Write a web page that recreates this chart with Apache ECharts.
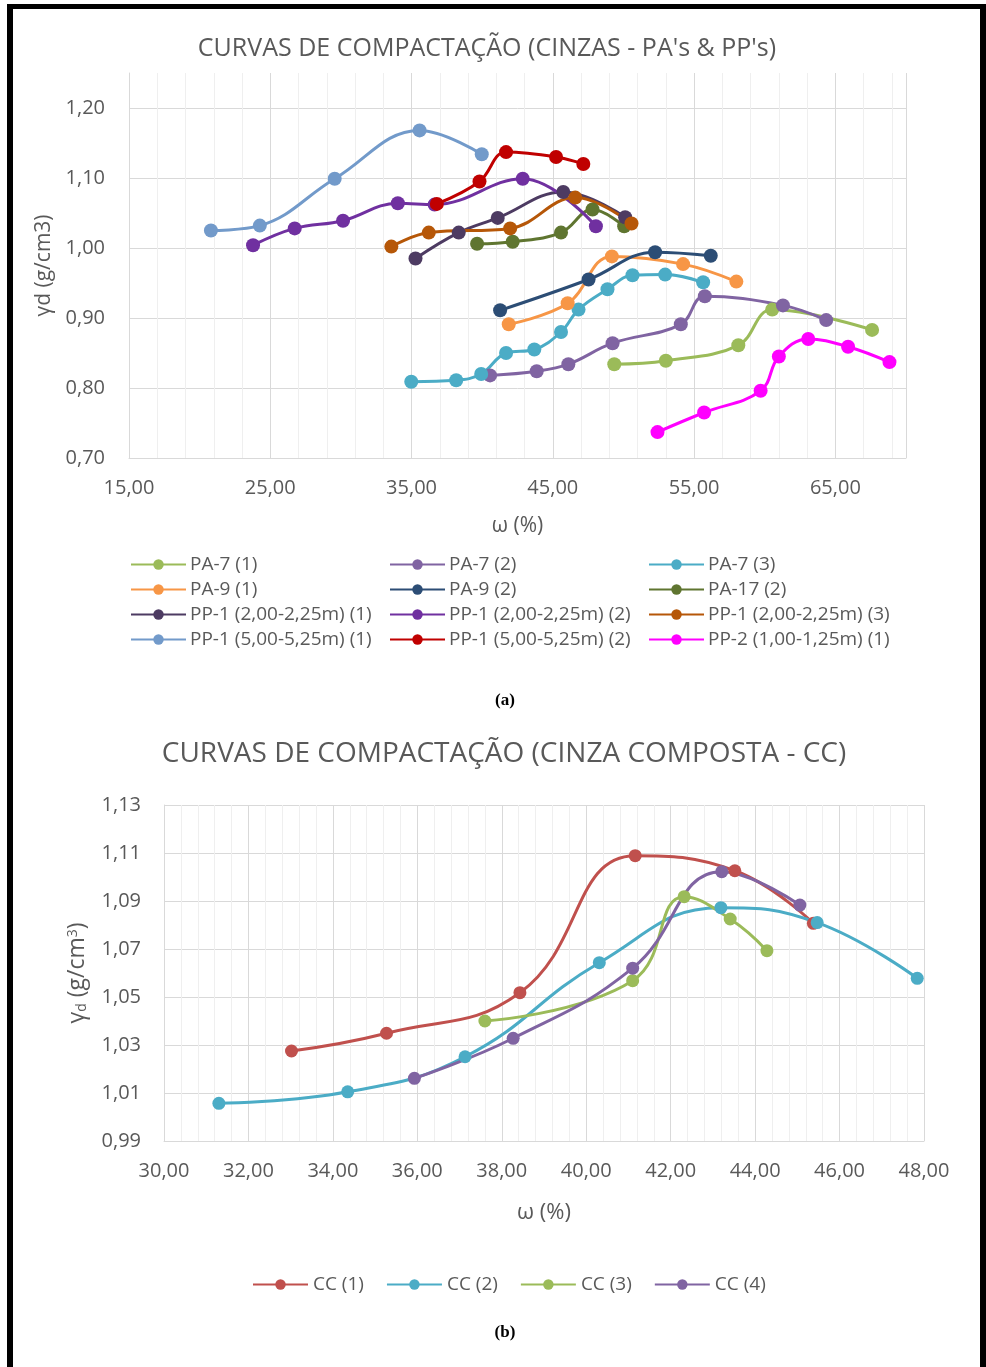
<!DOCTYPE html>
<html>
<head>
<meta charset="utf-8">
<script src="https://cdn.jsdelivr.net/npm/echarts@6/dist/echarts.min.js"></script>
<style>
html,body{margin:0;padding:0;background:#fff;}
#c{width:986px;height:1367px;}
</style>
</head>
<body>
<div id="c"></div>
<script>
// ---------- DATA (a): [ω (%), γd (g/cm3)] ----------
const PA7_1 = [[49.35,0.834],[53.0,0.839],[58.13,0.861],[60.53,0.912],[67.6,0.883]];
const PA7_2 = [[40.56,0.818],[43.86,0.824],[46.1,0.834],[49.23,0.864],[54.06,0.891],[55.76,0.931],[61.29,0.918],[64.35,0.897]];
const PA7_3 = [[34.98,0.809],[38.16,0.811],[39.93,0.820],[41.69,0.850],[43.69,0.855],[45.58,0.880],[46.82,0.912],[48.87,0.941],[50.64,0.961],[52.95,0.962],[55.64,0.951]];
const PA9_1 = [[41.88,0.891],[46.05,0.921],[49.18,0.988],[54.22,0.977],[57.99,0.952]];
const PA9_2 = [[41.27,0.911],[47.53,0.955],[52.24,0.994],[56.18,0.989]];
const PA17_2 = [[39.64,1.006],[42.16,1.009],[45.58,1.022],[47.81,1.055],[50.05,1.031]];
const PP1_A1 = [[35.28,0.985],[38.34,1.022],[41.1,1.043],[45.74,1.080],[50.12,1.044]];
const PP1_A2 = [[23.78,1.004],[26.73,1.028],[30.15,1.039],[34.03,1.064],[36.63,1.062],[42.87,1.099],[48.05,1.031]];
const PP1_A3 = [[33.57,1.002],[36.22,1.022],[41.98,1.028],[46.59,1.072],[50.57,1.035]];
const PP1_B1 = [[20.8,1.025],[24.26,1.032],[29.56,1.099],[35.57,1.168],[39.97,1.134]];
const PP1_B2 = [[36.79,1.063],[39.81,1.095],[41.69,1.137],[45.23,1.130],[47.16,1.120]];
const PP2_1 = [[52.41,0.737],[55.71,0.765],[59.71,0.796],[61.0,0.845],[63.08,0.870],[65.9,0.859],[68.83,0.837]];

const namesA = ['PA-7 (1)','PA-7 (2)','PA-7 (3)','PA-9 (1)','PA-9 (2)','PA-17 (2)',
  'PP-1 (2,00-2,25m) (1)','PP-1 (2,00-2,25m) (2)','PP-1 (2,00-2,25m) (3)',
  'PP-1 (5,00-5,25m) (1)','PP-1 (5,00-5,25m) (2)','PP-2 (1,00-1,25m) (1)'];
const dataA = [PA7_1,PA7_2,PA7_3,PA9_1,PA9_2,PA17_2,PP1_A1,PP1_A2,PP1_A3,PP1_B1,PP1_B2,PP2_1];
const colorsA = ['#9BBB59','#8064A2','#4BACC6','#F79646','#2C4D75','#5F7530',
  '#4D3B62','#7030A0','#B65708','#729ACA','#C00000','#FF00FF'];

// ---------- DATA (b) ----------
const CC1 = [[33.02,1.0275],[35.27,1.0349],[38.43,1.0518],[41.16,1.1089],[43.52,1.1026],[45.38,1.0807]];
const CC2 = [[31.30,1.0057],[34.35,1.0105],[37.13,1.0251],[40.31,1.0643],[43.19,1.0872],[45.47,1.0810],[47.84,1.0578]];
const CC3 = [[37.60,1.0400],[41.10,1.0568],[42.32,1.0918],[43.41,1.0825],[44.28,1.0693]];
const CC4 = [[35.93,1.0161],[38.27,1.0328],[41.10,1.0620],[43.21,1.1022],[45.06,1.0883]];
const namesB = ['CC (1)','CC (2)','CC (3)','CC (4)'];
const dataB = [CC1,CC2,CC3,CC4];
const colorsB = ['#C0504D','#4BACC6','#9BBB59','#8064A2'];

const FONT = '"Open Sans", "Noto Sans", sans-serif';
const TXT = '#595959';
const fmt = v => v.toFixed(2).replace('.', ',');

const chart = echarts.init(document.getElementById('c'), null, {renderer:'canvas'});

const series = [];
dataA.forEach((d,i)=>{
  series.push({
    name:namesA[i], type:'line', xAxisIndex:0, yAxisIndex:0, data:d,
    smooth:0.4, symbol:'circle', symbolSize:14, showSymbol:true,
    lineStyle:{width:3,color:colorsA[i]}, itemStyle:{color:colorsA[i]},
    emphasis:{disabled:true}, animation:false
  });
});
dataB.forEach((d,i)=>{
  series.push({
    name:namesB[i], type:'line', xAxisIndex:2, yAxisIndex:1, data:d,
    smooth:0.45, symbol:'circle', symbolSize:13,
    lineStyle:{width:3,color:colorsB[i]}, itemStyle:{color:colorsB[i]},
    emphasis:{disabled:true}, animation:false
  });
});

// legends (a): 3 columns x 4 rows
const legCols = [130, 389, 648];
const legRows = [562, 587, 612, 637];
const legends = namesA.map((n,i)=>({
  data:[n], left:legCols[i%3], top:legRows[Math.floor(i/3)]-7,
  itemWidth:55, itemHeight:13, itemGap:0, padding:0, selectedMode:false,
  textStyle:{fontFamily:FONT,fontSize:19,color:TXT, padding:[0,0,0,-1]}
}));
legends.push({
  data:namesB, left:252, top:1275, itemWidth:55, itemHeight:13, itemGap:22, padding:0, selectedMode:false,
  textStyle:{fontFamily:FONT,fontSize:19,color:TXT}
});

const option = {
  animation:false,
  textStyle:{fontFamily:FONT},
  grid:[
    {left:129, top:73, width:777, height:385},
    {left:164, top:805, width:760, height:336}
  ],
  xAxis:[
    {gridIndex:0, type:'value', min:15, max:70, interval:10, z:1,
     axisLine:{show:true,lineStyle:{color:'#D9D9D9',width:1}}, axisTick:{show:false},
     axisLabel:{formatter:fmt, showMaxLabel:false, fontSize:20, color:TXT, margin:20, fontFamily:FONT},
     splitLine:{show:true, lineStyle:{color:'#D9D9D9',width:1}},
     name:'ω (%)', nameLocation:'middle', nameGap:58,
     nameTextStyle:{fontSize:21,color:TXT,fontFamily:FONT}},
    {gridIndex:0, type:'value', min:15, max:70, interval:2, z:0,
     axisLine:{show:false}, axisTick:{show:false}, axisLabel:{show:false},
     splitLine:{show:true, lineStyle:{color:'#EFEFEF',width:1}}},
    {gridIndex:1, type:'value', min:30, max:48, interval:2,
     axisLine:{show:true,lineStyle:{color:'#D9D9D9',width:1}}, axisTick:{show:false},
     minorTick:{show:false, splitNumber:5},
     minorSplitLine:{show:true, lineStyle:{color:'#EFEFEF',width:1}},
     axisLabel:{formatter:fmt, fontSize:20, color:TXT, margin:20, fontFamily:FONT},
     splitLine:{show:true, lineStyle:{color:'#D9D9D9',width:1}},
     name:'ω (%)', nameLocation:'middle', nameGap:61,
     nameTextStyle:{fontSize:22,color:TXT,fontFamily:FONT}}
  ],
  yAxis:[
    {gridIndex:0, type:'value', min:0.7, max:1.25, interval:0.1,
     axisLine:{show:true,lineStyle:{color:'#D9D9D9',width:1}}, axisTick:{show:false},
     axisLabel:{formatter:fmt, showMaxLabel:false, fontSize:20, color:TXT, margin:24, fontFamily:FONT},
     splitLine:{show:true, showMaxLine:false, lineStyle:{color:'#D9D9D9',width:1}},
     name:'γd (g/cm3)', nameLocation:'middle', nameGap:73,
     nameTextStyle:{fontSize:21,color:TXT,fontFamily:FONT}},
    {gridIndex:1, type:'value', min:0.99, max:1.13, interval:0.02,
     axisLine:{show:true,lineStyle:{color:'#D9D9D9',width:1}}, axisTick:{show:false},
     axisLabel:{formatter:fmt, fontSize:20, color:TXT, margin:23, fontFamily:FONT},
     splitLine:{show:true, lineStyle:{color:'#D9D9D9',width:1}},
     name:'{g|γ}{s|d}{g| (g/cm}{p|3}{g|)}', nameLocation:'middle', nameGap:75,
     nameTextStyle:{color:TXT,fontFamily:FONT,
       rich:{g:{fontSize:23,color:TXT,fontFamily:FONT,verticalAlign:'middle'},
             s:{fontSize:14,color:TXT,fontFamily:FONT,verticalAlign:'bottom'},
             p:{fontSize:14,color:TXT,fontFamily:FONT,verticalAlign:'top'}}}}
  ],
  legend:legends,
  series:series,
  graphic:[
    {type:'rect', shape:{x:7,y:4,width:6,height:1363}, style:{fill:'#000'}, z:100},
    {type:'rect', shape:{x:7,y:4,width:979,height:5}, style:{fill:'#000'}, z:100},
    {type:'rect', shape:{x:980,y:4,width:6,height:1363}, style:{fill:'#000'}, z:100},
    {type:'text', x:487, y:49, style:{text:"CURVAS DE COMPACTAÇÃO (CINZAS - PA's & PP's)", fill:TXT,
      font:'25px '+FONT, textAlign:'center', textVerticalAlign:'middle'}},
    {type:'text', x:504, y:754, style:{text:'CURVAS DE COMPACTAÇÃO (CINZA COMPOSTA - CC)', fill:TXT,
      font:'28px '+FONT, textAlign:'center', textVerticalAlign:'middle'}},
    {type:'text', x:505, y:701, style:{text:'(a)', fill:'#000',
      font:'bold 17px "Liberation Serif", "DejaVu Serif", serif', textAlign:'center', textVerticalAlign:'middle'}},
    {type:'text', x:505, y:1333, style:{text:'(b)', fill:'#000',
      font:'bold 17px "Liberation Serif", "DejaVu Serif", serif', textAlign:'center', textVerticalAlign:'middle'}}
  ]
};
chart.setOption(option);
</script>
</body>
</html>
